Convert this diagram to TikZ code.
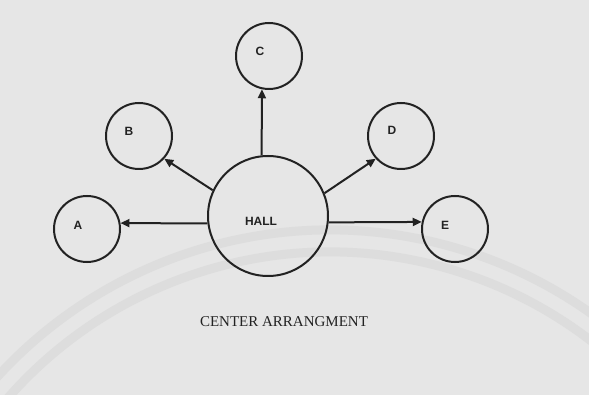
\documentclass[tikz,border=0pt]{standalone}
\usepackage{fontspec}
\setmainfont{Liberation Serif}
\setsansfont{Liberation Sans}
\usetikzlibrary{arrows.meta}
\definecolor{bg}{HTML}{E6E6E6}
\definecolor{wm}{HTML}{DDDDDD}
\definecolor{ink}{HTML}{222222}
\begin{document}
\begin{tikzpicture}[x=1pt,y=-1pt,
  room/.style={circle,draw=ink,line width=2pt,inner sep=0pt,minimum size=66pt},
  hall/.style={circle,draw=ink,line width=2pt,inner sep=0pt,minimum size=120pt},
  lbl/.style={font=\sffamily\bfseries\fontsize{12}{14}\selectfont,text=ink,inner sep=0pt},
  arr/.style={draw=ink,line width=2pt,-{Triangle[length=9pt,width=8pt]}},
  wmarc/.style={draw=wm,line width=9pt}]
\fill[bg] (0,0) rectangle (589,395);
\useasboundingbox (0,0) rectangle (589,395);
% faint background watermark arcs
\draw[wmarc] (330,680) ++(200:450) arc[start angle=200,end angle=340,radius=450];
\draw[wmarc] (330,680) ++(200:428) arc[start angle=200,end angle=340,radius=428];
% nodes
\node[hall] (H) at (268,216) {};
\node[room] (A) at (87,229) {};
\node[room] (B) at (139,136) {};
\node[room] (C) at (269,56) {};
\node[room] (D) at (401,136) {};
\node[room] (E) at (455,229) {};
\node[lbl] (tH) at (261,221) {HALL};
\node[lbl] (tA) at (78,225) {A};
\node[lbl] (tB) at (129,131) {B};
\node[lbl] (tC) at (260,51) {C};
\node[lbl] (tD) at (392,130) {D};
\node[lbl] (tE) at (445,225) {E};
% connectors
\draw[arr] (H.187) -- (A.10);
\draw[arr] (H.155) -- (B.-42);
\draw[arr] (H.96) -- (C.258);
\draw[arr] (H.22) -- (D.222);
\draw[arr] (H.354) -- (E.168);
% caption
\node[font=\fontsize{15}{17}\selectfont,text=ink,inner sep=0pt] (cap) at (284,322) {CENTER ARRANGMENT};
\end{tikzpicture}
\end{document}
